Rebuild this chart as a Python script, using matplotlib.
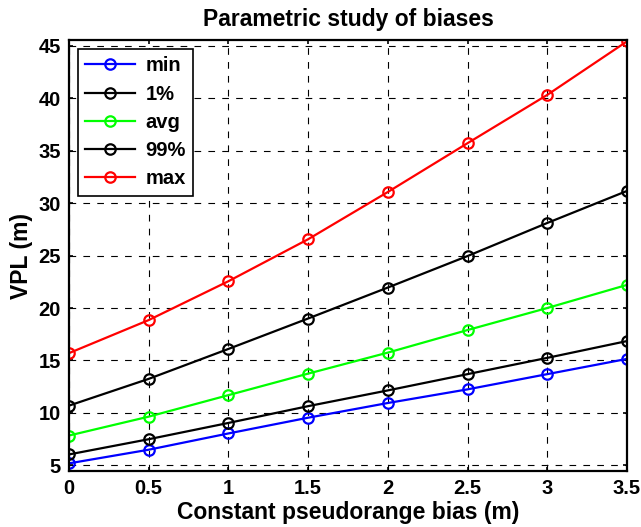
import matplotlib
matplotlib.use("Agg")
import matplotlib.pyplot as plt

plt.rcParams['font.family'] = ['Liberation Sans', 'DejaVu Sans']
plt.rcParams['font.weight'] = 'bold'

bias = [0, 0.5, 1, 1.5, 2, 2.5, 3, 3.5]
vpl_min = [5.2, 6.5, 8.05, 9.55, 10.95, 12.25, 13.7, 15.15]
vpl_p1 = [6.05, 7.5, 9.05, 10.65, 12.15, 13.7, 15.25, 16.85]
vpl_avg = [7.85, 9.65, 11.7, 13.75, 15.75, 17.9, 20.0, 22.2]
vpl_p99 = [10.7, 13.25, 16.1, 19.0, 21.95, 24.95, 28.1, 31.15]
vpl_max = [15.7, 18.85, 22.55, 26.55, 31.05, 35.7, 40.3, 45.4]

series = [
    (vpl_min, 'min', 'blue'),
    (vpl_p1, '1%', 'black'),
    (vpl_avg, 'avg', '#00ff00'),
    (vpl_p99, '99%', 'black'),
    (vpl_max, 'max', 'red'),
]

fig = plt.figure(figsize=(6.41, 5.27), dpi=100)
ax = fig.add_axes([0.1076, 0.1068, 0.8705, 0.8167])

for vals, name, col in series:
    ax.plot(bias, vals, '-o', color=col, label=name, linewidth=1.6,
            markersize=7.5, markerfacecolor='none', markeredgewidth=1.6)

ax.set_xlim(0, 3.5)
ax.set_ylim(4.5, 45.5)
ax.set_xticks(bias)
ax.set_xticklabels(['0', '0.5', '1', '1.5', '2', '2.5', '3', '3.5'])
ax.set_yticks(range(5, 46, 5))
ax.grid(True, color='black', linestyle=(0, (6, 6.5)), linewidth=0.8)
ax.tick_params(direction='in', top=True, right=True, labelsize=14.5,
               width=1.2, length=3, pad=6)
for lbl in ax.get_xticklabels() + ax.get_yticklabels():
    lbl.set_fontweight('bold')
for sp in ax.spines.values():
    sp.set_linewidth(1.6)

ax.set_title('Parametric study of biases', fontsize=16.5, fontweight='bold', pad=10)
ax.set_xlabel('Constant pseudorange bias (m)', fontsize=16.5, fontweight='bold', labelpad=2)
ax.set_ylabel('VPL (m)', fontsize=16.5, fontweight='bold', labelpad=4)

leg = ax.legend(loc='upper left', fontsize=14.5, fancybox=False, framealpha=1,
                edgecolor='black', borderaxespad=0.45, handlelength=2.5,
                handletextpad=0.5, labelspacing=0.46, borderpad=0.35)
leg.get_frame().set_linewidth(1.2)

fig.savefig('out.png', dpi=100)
